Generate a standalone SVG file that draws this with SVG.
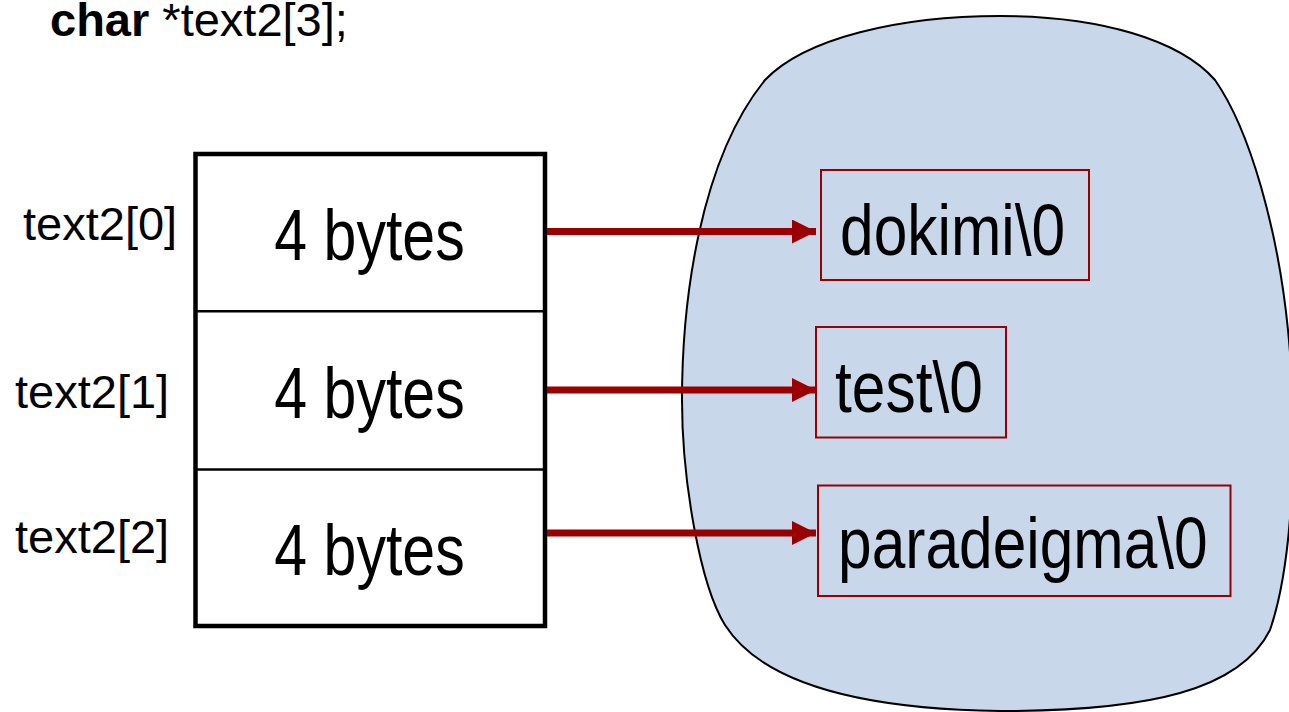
<svg xmlns="http://www.w3.org/2000/svg" width="1289" height="712" viewBox="0 0 1289 712">
  <style>
    .lbl { font-family: "Liberation Sans", Arial, sans-serif; font-size: 47px; fill: #000; }
    .big { font-family: "Liberation Sans", Arial, sans-serif; font-size: 72px; fill: #000; }
    .cell { fill: none; stroke: #000; }
    .str { fill: none; stroke: #9A0000; stroke-width: 2; }
    .conn { stroke: #9A0000; stroke-width: 7; fill: none; }
  </style>
  <defs>
    <marker id="ah" markerUnits="userSpaceOnUse" markerWidth="26" markerHeight="26" refX="24" refY="12" orient="auto">
      <path d="M0,0 L24,12 L0,24 Z" fill="#9A0000"/>
    </marker>
  </defs>
  <rect width="1289" height="712" fill="#fff"/>

  <g id="title">
    <text class="lbl" x="50" y="36"><tspan font-weight="bold">char</tspan> *text2[3];</text>
  </g>

  <g id="heap">
    <path d="M 1000 16 C 1100 16, 1180 40, 1215 80 C 1250 130, 1278 230, 1288 330 C 1298 430, 1294 560, 1270 630 C 1240 690, 1150 711, 1000 711 C 850 709, 760 680, 725 625 C 700 585, 682 480, 682 400 C 682 300, 700 160, 765 80 C 805 38, 900 16, 1000 16 Z" fill="#C8D8EA" stroke="#000" stroke-width="2"/>
  </g>

  <g id="array">
    <rect class="cell" x="195.5" y="154" width="349.5" height="472" stroke-width="4.5"/>
    <line class="cell" x1="195.5" y1="311.3" x2="545" y2="311.3" stroke-width="2.5"/>
    <line class="cell" x1="195.5" y1="469.5" x2="545" y2="469.5" stroke-width="2.5"/>
  </g>

  <g id="elem0">
    <text class="lbl" x="23" y="240">text2[0]</text>
    <text class="big" text-anchor="middle" transform="translate(369.5,260) scale(0.82,1)">4 bytes</text>
  </g>
  <g id="elem1">
    <text class="lbl" x="15" y="408">text2[1]</text>
    <text class="big" text-anchor="middle" transform="translate(369.5,417.5) scale(0.82,1)">4 bytes</text>
  </g>
  <g id="elem2">
    <text class="lbl" x="15" y="553">text2[2]</text>
    <text class="big" text-anchor="middle" transform="translate(369.5,575) scale(0.82,1)">4 bytes</text>
  </g>

  <g id="str0">
    <rect class="str" x="821" y="170" width="268" height="110"/>
    <text class="big" transform="translate(840,255) scale(0.84,1)">dokimi\0</text>
  </g>
  <g id="str1">
    <rect class="str" x="816" y="327" width="190" height="110.5"/>
    <text class="big" transform="translate(835,412) scale(0.84,1)">test\0</text>
  </g>
  <g id="str2">
    <rect class="str" x="818" y="485.5" width="412.5" height="110.5"/>
    <text class="big" transform="translate(838,568) scale(0.84,1)">paradeigma\0</text>
  </g>

  <g id="connectors">
    <line class="conn" x1="547" y1="231.5" x2="816" y2="231.5" marker-end="url(#ah)"/>
    <line class="conn" x1="547" y1="390" x2="816" y2="390" marker-end="url(#ah)"/>
    <line class="conn" x1="547" y1="533" x2="816" y2="533" marker-end="url(#ah)"/>
  </g>
</svg>
